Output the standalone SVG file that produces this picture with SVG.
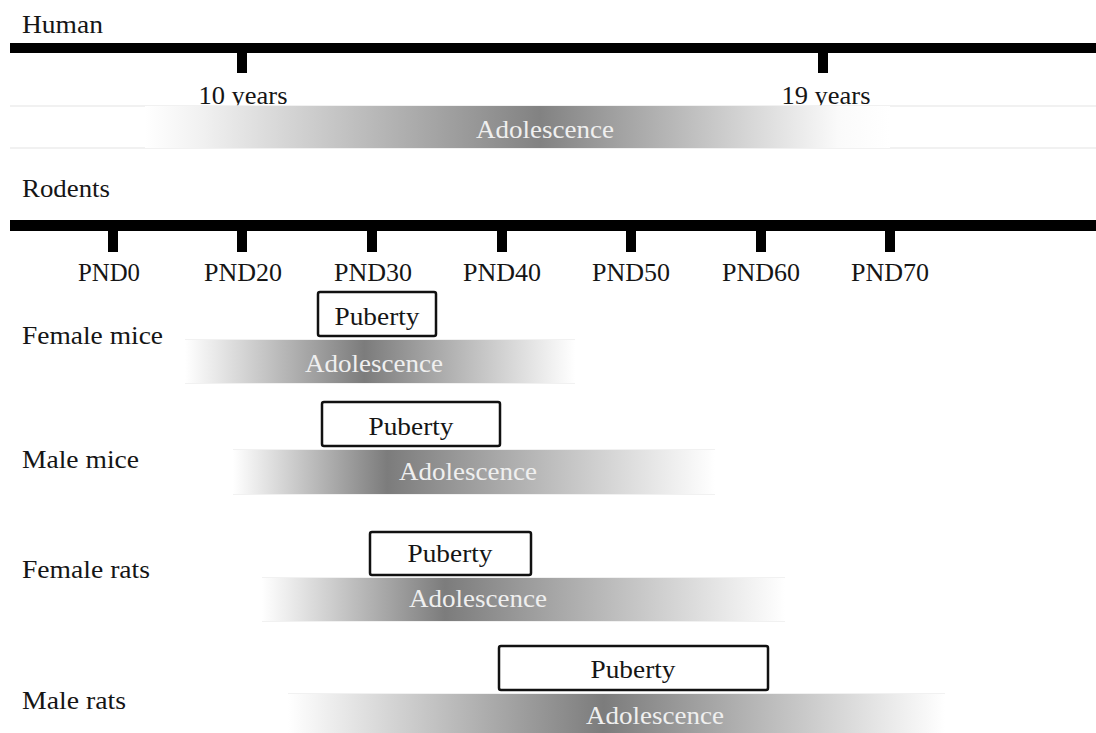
<svg xmlns="http://www.w3.org/2000/svg" width="1096" height="733" viewBox="0 0 1096 733" font-family="'Liberation Serif', 'Times New Roman', Times, serif">
<style>
  text { font-size: 26px; fill: #151515; }
  .lbl { text-anchor: start; }
  .mid { text-anchor: middle; }
  .adol { fill: #efefef; text-anchor: middle; }
  .axis { fill: #000; }
  .pub { fill: #fff; stroke: #111; stroke-width: 2.5; }
  .edge { stroke: #ededed; stroke-width: 1.5; }
</style>
<defs>
  <linearGradient id="gH" x1="0" x2="1" y1="0" y2="0">
    <stop offset="0" stop-color="#fff"/>
    <stop offset="0.08" stop-color="#f0f0f0"/>
    <stop offset="0.53" stop-color="#828282"/>
    <stop offset="0.93" stop-color="#fafafa"/>
    <stop offset="1" stop-color="#fff"/>
  </linearGradient>
  <linearGradient id="gFM" x1="0" x2="1" y1="0" y2="0">
    <stop offset="0" stop-color="#fff"/>
    <stop offset="0.46" stop-color="#7c7c7c"/>
    <stop offset="1" stop-color="#fff"/>
  </linearGradient>
  <linearGradient id="gMM" x1="0" x2="1" y1="0" y2="0">
    <stop offset="0" stop-color="#fff"/>
    <stop offset="0.32" stop-color="#7c7c7c"/>
    <stop offset="1" stop-color="#fff"/>
  </linearGradient>
  <linearGradient id="gFR" x1="0" x2="1" y1="0" y2="0">
    <stop offset="0" stop-color="#fff"/>
    <stop offset="0.35" stop-color="#7c7c7c"/>
    <stop offset="1" stop-color="#fff"/>
  </linearGradient>
  <linearGradient id="gMR" x1="0" x2="1" y1="0" y2="0">
    <stop offset="0" stop-color="#fff"/>
    <stop offset="0.48" stop-color="#7c7c7c"/>
    <stop offset="1" stop-color="#fff"/>
  </linearGradient>
</defs>
<rect width="1096" height="733" fill="#fff"/>

<g id="human-axis">
  <text class="lbl" x="22" y="33" textLength="81" lengthAdjust="spacingAndGlyphs">Human</text>
  <rect class="axis" x="10" y="43" width="1086" height="10"/>
  <rect class="axis" x="237" y="52" width="10" height="21"/>
  <rect class="axis" x="818" y="52" width="10" height="21"/>
  <text class="mid" x="243" y="104" textLength="89" lengthAdjust="spacingAndGlyphs">10 years</text>
  <text class="mid" x="826" y="104" textLength="89" lengthAdjust="spacingAndGlyphs">19 years</text>
</g>
<g id="human-adolescence">
  <line class="edge" x1="10" y1="106" x2="1096" y2="106"/>
  <line class="edge" x1="10" y1="148" x2="1096" y2="148"/>
  <rect x="145" y="106" width="745" height="42" fill="url(#gH)"/>
  <text class="adol" x="545" y="138" textLength="138" lengthAdjust="spacingAndGlyphs">Adolescence</text>
</g>

<g id="rodent-axis">
  <text class="lbl" x="22" y="197" textLength="88" lengthAdjust="spacingAndGlyphs">Rodents</text>
  <rect class="axis" x="10" y="220" width="1086" height="11"/>
  <rect class="axis" x="108" y="230" width="10" height="22"/>
  <rect class="axis" x="237" y="230" width="10" height="22"/>
  <rect class="axis" x="367" y="230" width="10" height="22"/>
  <rect class="axis" x="497" y="230" width="10" height="22"/>
  <rect class="axis" x="626" y="230" width="10" height="22"/>
  <rect class="axis" x="756" y="230" width="10" height="22"/>
  <rect class="axis" x="885" y="230" width="10" height="22"/>
  <text class="mid" x="109" y="281" textLength="62" lengthAdjust="spacingAndGlyphs">PND0</text>
  <text class="mid" x="243" y="281" textLength="78" lengthAdjust="spacingAndGlyphs">PND20</text>
  <text class="mid" x="373" y="281" textLength="78" lengthAdjust="spacingAndGlyphs">PND30</text>
  <text class="mid" x="502" y="281" textLength="78" lengthAdjust="spacingAndGlyphs">PND40</text>
  <text class="mid" x="631" y="281" textLength="78" lengthAdjust="spacingAndGlyphs">PND50</text>
  <text class="mid" x="761" y="281" textLength="78" lengthAdjust="spacingAndGlyphs">PND60</text>
  <text class="mid" x="890" y="281" textLength="78" lengthAdjust="spacingAndGlyphs">PND70</text>
</g>

<g id="female-mice">
  <text class="lbl" x="22" y="344" textLength="141" lengthAdjust="spacingAndGlyphs">Female mice</text>
  <line class="edge" x1="185" y1="340" x2="575" y2="340"/>
  <line class="edge" x1="185" y1="383" x2="575" y2="383"/>
  <rect x="185" y="340" width="390" height="43" fill="url(#gFM)"/>
  <text class="adol" x="374" y="372" textLength="138" lengthAdjust="spacingAndGlyphs">Adolescence</text>
  <rect class="pub" x="318" y="292" width="118" height="44" rx="2"/>
  <text class="mid" x="377" y="325" textLength="85" lengthAdjust="spacingAndGlyphs">Puberty</text>
</g>

<g id="male-mice">
  <text class="lbl" x="22" y="468" textLength="117" lengthAdjust="spacingAndGlyphs">Male mice</text>
  <line class="edge" x1="233" y1="450" x2="715" y2="450"/>
  <line class="edge" x1="233" y1="494" x2="715" y2="494"/>
  <rect x="233" y="450" width="482" height="44" fill="url(#gMM)"/>
  <text class="adol" x="468" y="480" textLength="138" lengthAdjust="spacingAndGlyphs">Adolescence</text>
  <rect class="pub" x="322" y="402" width="178" height="44" rx="2"/>
  <text class="mid" x="411" y="435" textLength="85" lengthAdjust="spacingAndGlyphs">Puberty</text>
</g>

<g id="female-rats">
  <text class="lbl" x="22" y="578" textLength="128" lengthAdjust="spacingAndGlyphs">Female rats</text>
  <line class="edge" x1="262" y1="578" x2="785" y2="578"/>
  <line class="edge" x1="262" y1="621" x2="785" y2="621"/>
  <rect x="262" y="578" width="523" height="43" fill="url(#gFR)"/>
  <text class="adol" x="478" y="607" textLength="138" lengthAdjust="spacingAndGlyphs">Adolescence</text>
  <rect class="pub" x="370" y="532" width="161" height="43" rx="2"/>
  <text class="mid" x="450" y="562" textLength="85" lengthAdjust="spacingAndGlyphs">Puberty</text>
</g>

<g id="male-rats">
  <text class="lbl" x="22" y="709" textLength="104" lengthAdjust="spacingAndGlyphs">Male rats</text>
  <line class="edge" x1="288" y1="694" x2="945" y2="694"/>
  <rect x="288" y="694" width="657" height="39" fill="url(#gMR)"/>
  <text class="adol" x="655" y="724" textLength="138" lengthAdjust="spacingAndGlyphs">Adolescence</text>
  <rect class="pub" x="499" y="646" width="269" height="44" rx="2"/>
  <text class="mid" x="633" y="678" textLength="85" lengthAdjust="spacingAndGlyphs">Puberty</text>
</g>

<g id="connectors"></g>
</svg>
